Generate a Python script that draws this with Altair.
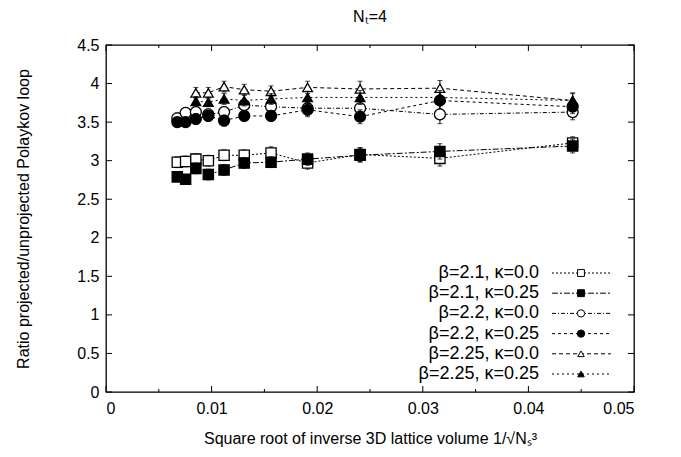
import altair as alt
import pandas as pd

# ---------------- data ----------------
# x = 1/sqrt(Ns^3) for Ns = 28, 26, 24, 22, 20, 18, 16, 14, 12, 10, 8
x_all = [0.00675, 0.00754, 0.00851, 0.00969, 0.01118, 0.01309,
         0.01563, 0.01909, 0.02406, 0.03162, 0.04419]
x_tri = [0.00851, 0.00969, 0.01118, 0.01309, 0.01563, 0.01909,
         0.02406, 0.03162, 0.04419]

series_names = ["β=2.1, κ=0.0", "β=2.1, κ=0.25", "β=2.2, κ=0.0",
                "β=2.2, κ=0.25", "β=2.25, κ=0.0", "β=2.25, κ=0.25"]

y_b21_k00 = [2.98, 2.99, 3.02, 3.00, 3.07, 3.07, 3.10, 2.97, 3.08, 3.03, 3.23]
e_b21_k00 = [0.07, 0.07, 0.07, 0.07, 0.07, 0.07, 0.08, 0.08, 0.09, 0.10, 0.08]
y_b21_k25 = [2.79, 2.76, 2.90, 2.82, 2.88, 2.97, 2.98, 3.02, 3.07, 3.12, 3.19]
e_b21_k25 = [0.06, 0.06, 0.07, 0.07, 0.07, 0.07, 0.07, 0.08, 0.09, 0.10, 0.09]
y_b22_k00 = [3.55, 3.62, 3.63, 3.60, 3.63, 3.72, 3.70, 3.68, 3.68, 3.60, 3.63]
e_b22_k00 = [0.07, 0.07, 0.07, 0.07, 0.07, 0.07, 0.08, 0.09, 0.10, 0.12, 0.10]
y_b22_k25 = [3.50, 3.50, 3.54, 3.58, 3.52, 3.58, 3.58, 3.66, 3.57, 3.78, 3.70]
e_b22_k25 = [0.06, 0.06, 0.07, 0.07, 0.07, 0.07, 0.07, 0.09, 0.09, 0.11, 0.09]
y_b225_k00 = [3.88, 3.88, 3.96, 3.92, 3.90, 3.95, 3.93, 3.94, 3.78]
e_b225_k00 = [0.07, 0.07, 0.07, 0.07, 0.07, 0.08, 0.10, 0.10, 0.10]
y_b225_k25 = [3.77, 3.76, 3.80, 3.78, 3.80, 3.82, 3.82, 3.82, 3.78]
e_b225_k25 = [0.06, 0.06, 0.07, 0.07, 0.07, 0.08, 0.09, 0.09, 0.09]

x_major_ticks = [0.0, 0.01, 0.02, 0.03, 0.04, 0.05]
x_minor_ticks = [0.005, 0.015, 0.025, 0.035, 0.045]
y_ticks = [0.0, 0.5, 1.0, 1.5, 2.0, 2.5, 3.0, 3.5, 4.0, 4.5]

# ---------------- styles ----------------
W, H = 528, 347
FONT = "Liberation Sans"
styles = [
    dict(shape="square", filled=False, size=105, dash=[2, 2]),
    dict(shape="square", filled=True, size=105, dash=[6, 2, 2, 2]),
    dict(shape="circle", filled=False, size=120, dash=[4, 2, 1, 2]),
    dict(shape="circle", filled=True, size=120, dash=[3, 3]),
    dict(shape="triangle-up", filled=False, size=95, dash=[4, 3]),
    dict(shape="triangle-up", filled=True, size=95, dash=[2, 3]),
]
series_data = [
    (x_all, y_b21_k00, e_b21_k00),
    (x_all, y_b21_k25, e_b21_k25),
    (x_all, y_b22_k00, e_b22_k00),
    (x_all, y_b22_k25, e_b22_k25),
    (x_tri, y_b225_k00, e_b225_k00),
    (x_tri, y_b225_k25, e_b225_k25),
]

xscale = alt.Scale(domain=[0, 0.05], nice=False, zero=False)
yscale = alt.Scale(domain=[0, 4.5], nice=False, zero=False)

axis_font = dict(labelFont=FONT, labelFontSize=16, labelColor="black", labelOverlap=False,
                 titleFont=FONT, titleFontSize=16, titleFontWeight="normal", titleColor="black",
                 ticks=False, domain=False, grid=False, format="~g")
xaxis = alt.Axis(values=x_major_ticks, labelPadding=8,
                 title="Square root of inverse 3D lattice volume 1/√Nₛ³",
                 titlePadding=14, **axis_font)
yaxis = alt.Axis(values=y_ticks, labelPadding=7,
                 title="Ratio projected/unprojected Polaykov loop",
                 titlePadding=45, **axis_font)


def X(field):
    return alt.X(field, scale=xscale, axis=xaxis)


def Y(field):
    return alt.Y(field, scale=yscale, axis=yaxis)


layers = []

# manual inward ticks (gnuplot style box)
xt = pd.DataFrame({"t": x_major_ticks})
xm = pd.DataFrame({"t": x_minor_ticks})
yt = pd.DataFrame({"t": y_ticks})
tick_kw = dict(color="black", strokeWidth=1)
layers.append(alt.Chart(xt).mark_rule(**tick_kw).encode(
    x=X("t:Q"), y=alt.value(H), y2=alt.value(H - 6)))
layers.append(alt.Chart(xt).mark_rule(**tick_kw).encode(
    x=X("t:Q"), y=alt.value(0), y2=alt.value(6)))
layers.append(alt.Chart(xm).mark_rule(**tick_kw).encode(
    x=X("t:Q"), y=alt.value(H), y2=alt.value(H - 3)))
layers.append(alt.Chart(xm).mark_rule(**tick_kw).encode(
    x=X("t:Q"), y=alt.value(0), y2=alt.value(3)))
layers.append(alt.Chart(yt).mark_rule(**tick_kw).encode(
    y=Y("t:Q"), x=alt.value(0), x2=alt.value(6)))
layers.append(alt.Chart(yt).mark_rule(**tick_kw).encode(
    y=Y("t:Q"), x=alt.value(W), x2=alt.value(W - 6)))

# data series
for name, st, (xs, ys, es) in zip(series_names, styles, series_data):
    df = pd.DataFrame({"x": xs, "y": ys, "lo": [y - e for y, e in zip(ys, es)],
                       "hi": [y + e for y, e in zip(ys, es)]})
    base = alt.Chart(df)
    layers.append(base.mark_line(color="black", strokeWidth=1, strokeDash=st["dash"]).encode(
        x=X("x:Q"), y=Y("y:Q")))
    layers.append(base.mark_rule(color="black", strokeWidth=1).encode(
        x=X("x:Q"), y=Y("lo:Q"), y2="hi:Q"))
    for col in ["lo", "hi"]:
        layers.append(base.mark_tick(color="black", orient="horizontal", size=5, thickness=1).encode(
            x=X("x:Q"), y=Y(f"{col}:Q")))
    layers.append(base.mark_point(shape=st["shape"], filled=True, size=st["size"],
                                  fill="black" if st["filled"] else "white",
                                  stroke="black", strokeWidth=1.3, opacity=1).encode(
        x=X("x:Q"), y=Y("y:Q")))

# legend (gnuplot style, inside bottom right)
one = pd.DataFrame({"k": [0]})
leg_y0, leg_dy = 228, 20.2
for i, (name, st) in enumerate(zip(series_names, styles)):
    yy = leg_y0 + i * leg_dy
    layers.append(alt.Chart(one).mark_text(text=name, align="right", baseline="middle",
                                           font=FONT, fontSize=18, color="black").encode(
        x=alt.value(433), y=alt.value(yy)))
    layers.append(alt.Chart(one).mark_rule(color="black", strokeWidth=1, strokeDash=st["dash"]).encode(
        x=alt.value(446), x2=alt.value(505), y=alt.value(yy)))
    layers.append(alt.Chart(one).mark_point(shape=st["shape"], filled=True, size=st["size"] * 0.45,
                                            fill="black" if st["filled"] else "white",
                                            stroke="black", strokeWidth=1, opacity=1).encode(
        x=alt.value(475), y=alt.value(yy)))

chart = alt.layer(*layers).properties(
    width=W, height=H,
    background="white",
    title=alt.TitleParams("Nₜ=4", font=FONT, fontSize=16, fontWeight="normal", offset=12,
                          anchor="middle", color="black"),
    autosize=alt.AutoSizeParams(type="none"),
    padding={"left": 98, "top": 37, "right": 30, "bottom": 62},
).configure_view(stroke="black", strokeWidth=1.3)

chart.save("out.html", embed_options={"renderer": "svg", "actions": False})
